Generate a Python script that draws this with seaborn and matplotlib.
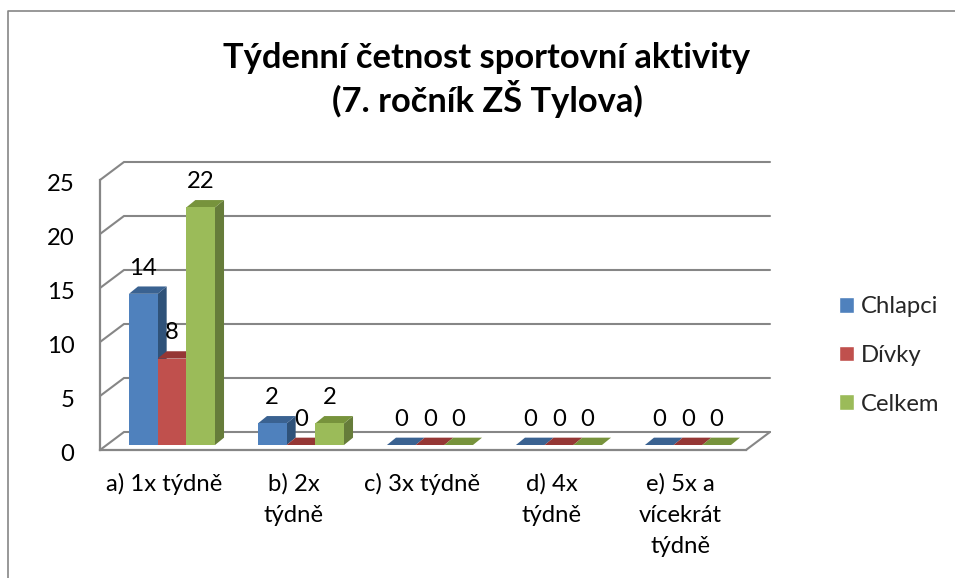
import numpy as np
import pandas as pd
import seaborn as sns
import matplotlib.pyplot as plt
from matplotlib.lines import Line2D
from matplotlib.patches import Polygon
from matplotlib.transforms import ScaledTranslation

categories = ["a) 1x týdně", "b) 2x\ntýdně", "c) 3x týdně", "d) 4x\ntýdně", "e) 5x a\nvícekrát\ntýdně"]
chlapci = [14, 2, 0, 0, 0]
divky = [8, 0, 0, 0, 0]
celkem = [22, 2, 0, 0, 0]
series_names = ["Chlapci", "Dívky", "Celkem"]
y_ticks = [0, 5, 10, 15, 20, 25]

front_colors = ["#4F81BD", "#C0504D", "#9BBB59"]
side_colors = ["#2F5279", "#8E3A38", "#667C3A"]
top_colors = ["#3A6291", "#953735", "#77933C"]
grid_color = "#868686"

sns.set_theme(style="white")
plt.rcParams['font.family'] = ['Lato', 'DejaVu Sans']

label_size = 17.2

df = pd.DataFrame({
    "kategorie": categories * 3,
    "serie": np.repeat(series_names, len(categories)),
    "pocet": chlapci + divky + celkem,
})

fig = plt.figure(figsize=(9.55, 5.78), dpi=100)
fig.patch.set_facecolor("white")
ax = fig.add_axes([100 / 955, 1 - 450 / 578, 646 / 955, 270 / 578])

sns.barplot(data=df, x="kategorie", y="pocet", hue="serie", hue_order=series_names,
            palette=front_colors, saturation=1, width=0.667, gap=0, ax=ax)

# Offset of the front wall from the bars and the depth of the fake 3D box
front_dx, front_dy = -0.058, -0.463
wall_dx, wall_dy = 0.186, 1.667
bar_dx, bar_dy = 0.070, 0.68

ax.set_xlim(front_dx - 0.5, front_dx + 4.508)
ax.set_ylim(front_dy, front_dy + 25)

# Back wall gridlines and the diagonals joining them to the front wall
x_left = front_dx - 0.5
x_right = front_dx + 4.508
for val in y_ticks:
    y_front = val + front_dy
    ax.plot([x_left, x_left + wall_dx, x_right + wall_dx], [y_front, y_front + wall_dy, y_front + wall_dy],
            color=grid_color, lw=1.5, clip_on=False, zorder=1, solid_joinstyle="miter")
ax.plot([x_right, x_right + wall_dx], [front_dy, front_dy + wall_dy],
        color=grid_color, lw=1.5, clip_on=False, zorder=1)

# Side and top faces, painted bar by bar from the left
zorder = 3
for cont in ax.containers:
    ax.bar_label(cont, padding=11, fontsize=label_size, color="black", zorder=40)
for i in range(len(categories)):
    for cont, side, top in zip(ax.containers, side_colors, top_colors):
        bar = cont.patches[i]
        x0, x1 = bar.get_x(), bar.get_x() + bar.get_width()
        h = bar.get_height()
        ax.add_patch(Polygon([[x1, 0], [x1 + bar_dx, bar_dy], [x1 + bar_dx, h + bar_dy], [x1, h]],
                             facecolor=side, edgecolor="none", clip_on=False, zorder=zorder))
        ax.add_patch(Polygon([[x0, h], [x0 + bar_dx, h + bar_dy], [x1 + bar_dx, h + bar_dy], [x1, h]],
                             facecolor=top, edgecolor="none", clip_on=False, zorder=zorder))
        bar.set_zorder(zorder + 1)
        bar.set_linewidth(0)
        zorder += 2

ax.set_xlabel("")
ax.set_ylabel("")
ax.set_xticks(np.arange(len(categories)) + front_dx)
ax.set_xticklabels(categories, linespacing=1.6)
ax.set_yticks(np.array(y_ticks) + front_dy)
ax.set_yticklabels(y_ticks)
ax.tick_params(axis="x", length=0, pad=16.5, labelsize=label_size, colors="black")
ax.tick_params(axis="y", length=0, pad=18.5, labelsize=label_size, colors="black")

# y labels sit a little below their gridlines
for lab in ax.get_yticklabels():
    lab.set_transform(lab.get_transform() + ScaledTranslation(0, -2.5 / 100, fig.dpi_scale_trans))

for name in ["top", "right"]:
    ax.spines[name].set_visible(False)
for name in ["left", "bottom"]:
    ax.spines[name].set_color(grid_color)
    ax.spines[name].set_linewidth(1.6)

handles, labels = ax.get_legend_handles_labels()
ax.legend(handles, labels, loc="center left", bbox_to_anchor=(817 / 955, 1 - 355.5 / 578),
          bbox_transform=fig.transFigure, frameon=False, fontsize=label_size, title=None,
          handlelength=0.63, handleheight=0.63, handletextpad=0.3, labelspacing=1.16)

fig.text(487 / 955, 1 - 80 / 578, "Týdenní četnost sportovní aktivity\n(7. ročník ZŠ Tylova)",
         ha="center", va="center", fontsize=24.8, fontweight="bold", color="black", linespacing=1.2)

# Chart frame, only the left and top edges show in the crop
fig.add_artist(Line2D([7.5 / 955, 7.5 / 955, 1], [0, 1 - 10.5 / 578, 1 - 10.5 / 578],
                      color=grid_color, lw=1.2))

fig.savefig("out.png", dpi=100)
